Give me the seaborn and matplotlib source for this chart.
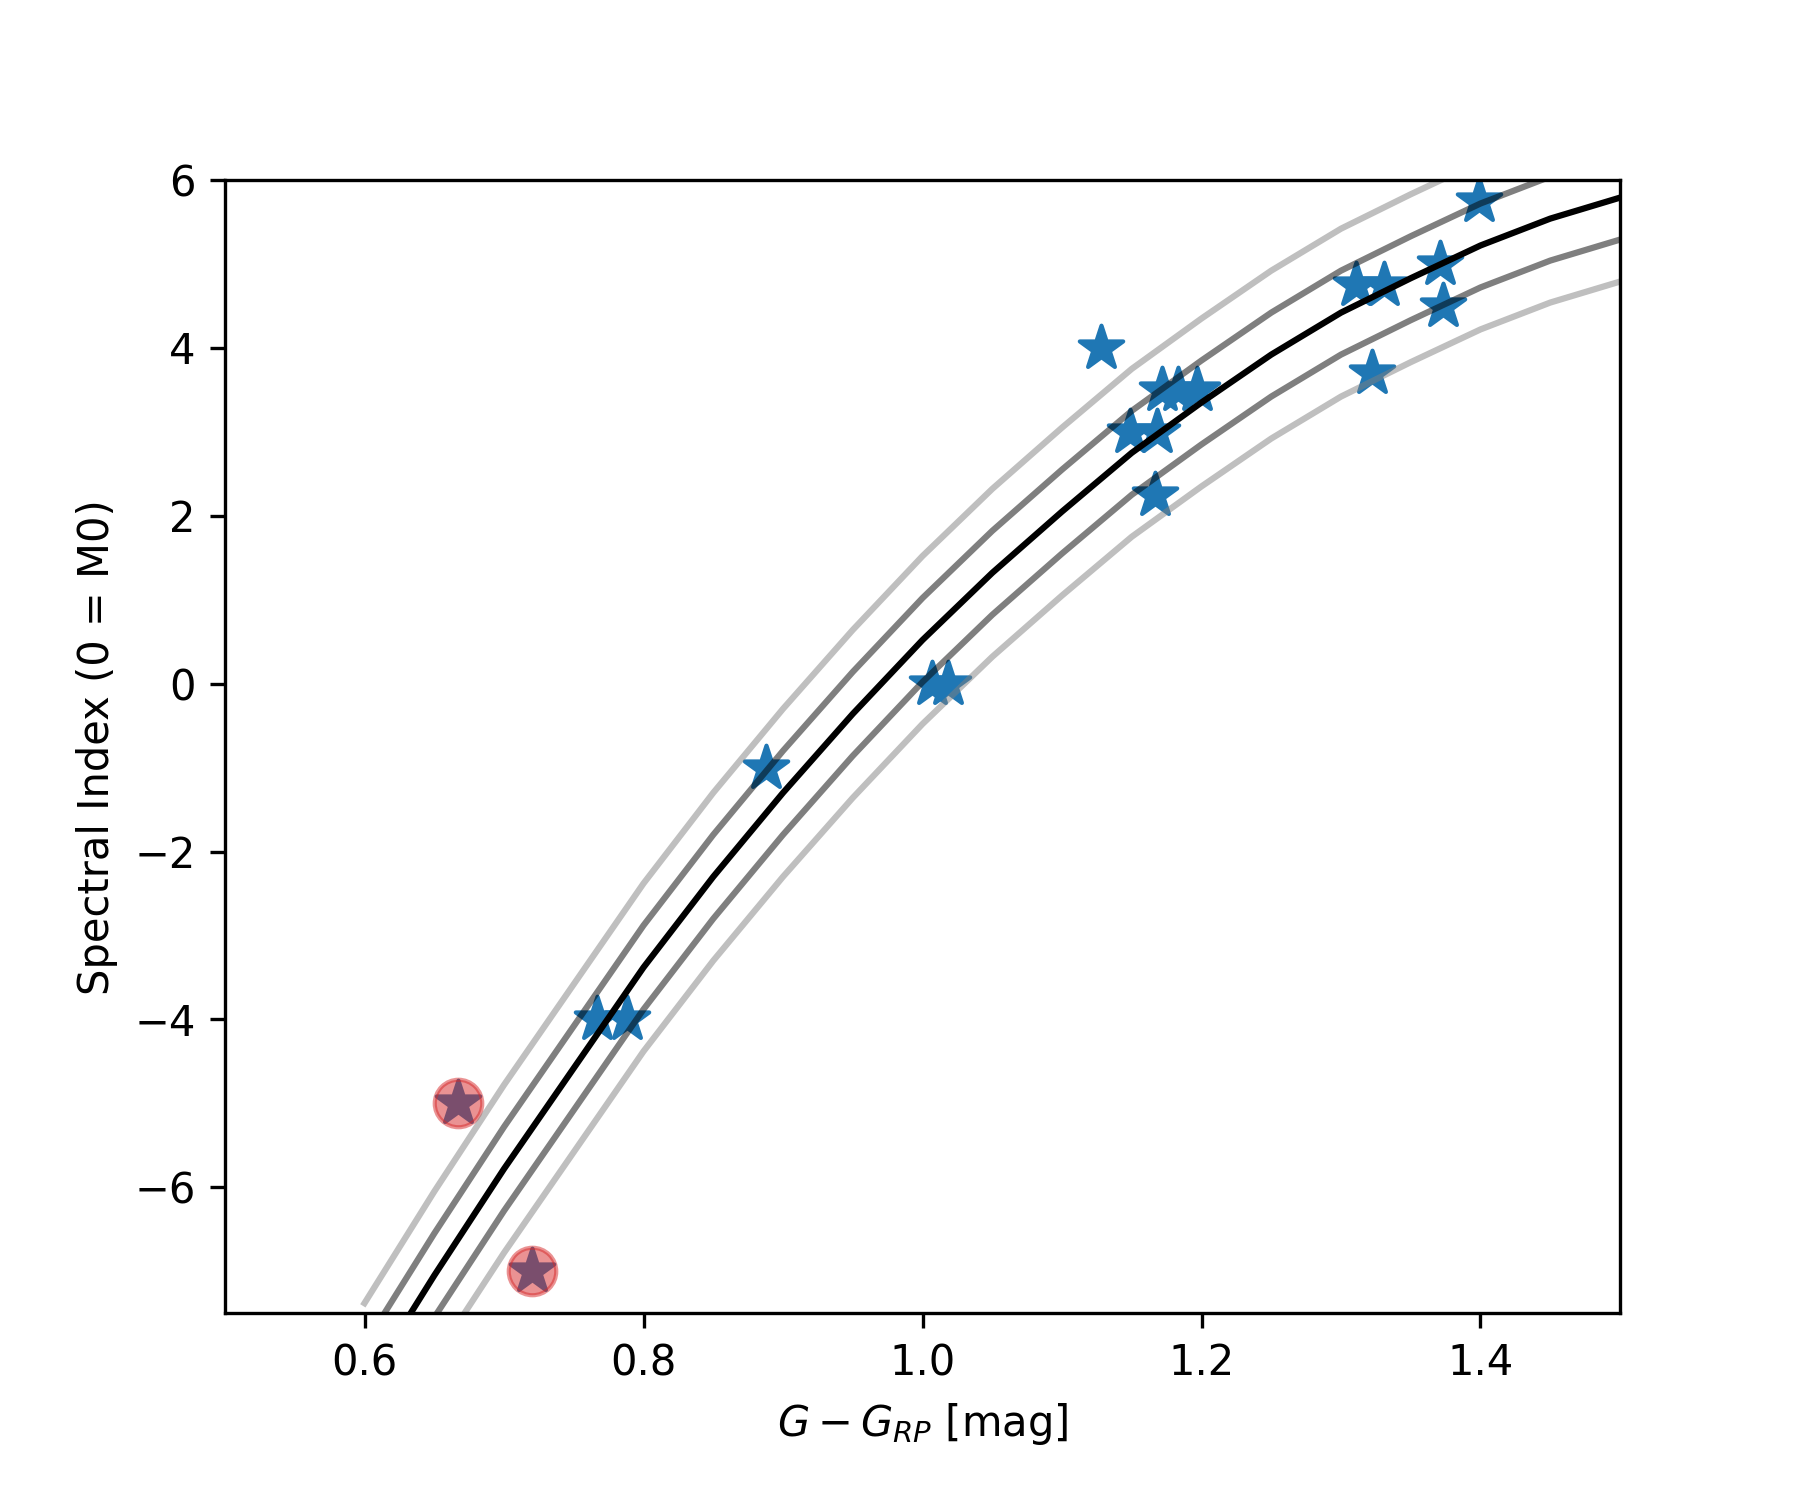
import numpy as np
import seaborn as sns
import matplotlib.pyplot as plt

# Relation: G-GRP colour vs spectral index (0 = M0)
color_grid = [0.60, 0.65, 0.70, 0.75, 0.80, 0.85, 0.90, 0.95, 1.00, 1.05,
              1.10, 1.15, 1.20, 1.25, 1.30, 1.35, 1.40, 1.45, 1.50]
spt_fit = [-8.38, -7.05, -5.78, -4.58, -3.38, -2.30, -1.30, -0.36, 0.52, 1.32,
           2.05, 2.75, 3.35, 3.92, 4.42, 4.83, 5.22, 5.54, 5.79]

# offset bands around the relation
band_offsets = [-1.0, -0.5, 0.5, 1.0]
band_colors = ['gray', 'k', 'k', 'gray']

# stars
star_color = [0.667, 0.720, 0.767, 0.788, 0.888, 1.007, 1.018, 1.128,
              1.149, 1.168, 1.167, 1.172, 1.183, 1.197, 1.311, 1.331,
              1.322, 1.371, 1.373, 1.399]
star_spt = [-5.0, -7.0, -4.0, -4.0, -1.0, 0.0, 0.0, 4.0,
            3.0, 3.0, 2.25, 3.5, 3.5, 3.5, 4.75, 4.75,
            3.7, 5.0, 4.5, 5.75]

# flagged stars (red circles)
flag_color = [0.667, 0.720]
flag_spt = [-5.0, -7.0]

fig, ax = plt.subplots(figsize=(6, 5), dpi=300)
fig.subplots_adjust(bottom=0.1245)

sns.scatterplot(x=star_color, y=star_spt, marker='*', s=120, color='C0',
                edgecolor='C0', linewidth=1, ax=ax)
sns.scatterplot(x=flag_color, y=flag_spt, marker='o', s=130, color='C3',
                edgecolor='C3', linewidth=1, alpha=0.5, ax=ax)

fit = np.array(spt_fit)
for off, col in zip(band_offsets, band_colors):
    sns.lineplot(x=color_grid, y=fit + off, color=col, alpha=0.5, ax=ax)
sns.lineplot(x=color_grid, y=spt_fit, color='k', ax=ax)

ax.set_xlim(0.5, 1.5)
ax.set_ylim(-7.5, 6)
ax.set_xlabel(r'$G - G_{RP}$ [mag]')
ax.set_ylabel('Spectral Index (0 = M0)')

plt.savefig('out.png', dpi=300)
